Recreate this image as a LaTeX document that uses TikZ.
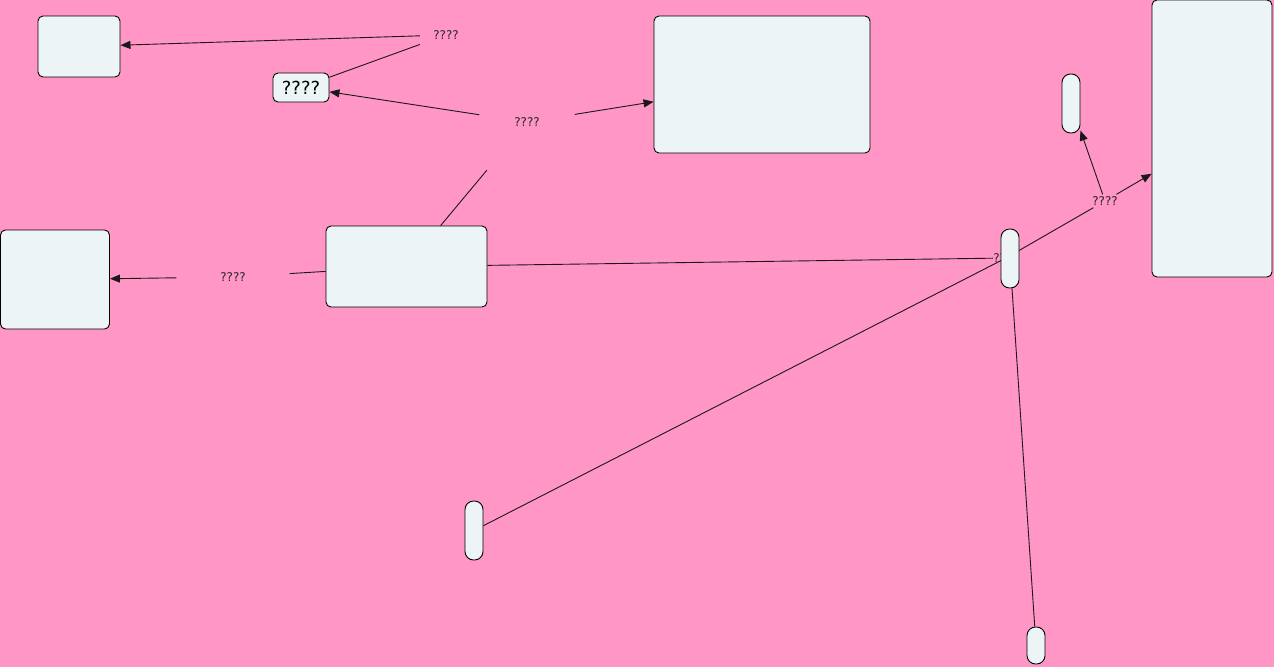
\documentclass[tikz,border=0pt]{standalone}
\usepackage{fontspec}
\setmainfont{DejaVu Sans}
\usetikzlibrary{arrows.meta}
\definecolor{bgpink}{HTML}{FF96C6}
\definecolor{boxfill}{HTML}{EDF4F6}
\pgfdeclarelayer{bglayer}
\pgfdeclarelayer{edgelayer}
\pgfsetlayers{bglayer,edgelayer,main}
\tikzset{
  box/.style={draw=black, fill=boxfill, line width=0.9pt, rounded corners=5pt, inner sep=0pt},
  pill/.style={draw=black, fill=boxfill, line width=0.9pt, rounded corners=8.5pt, inner sep=0pt, minimum width=18pt},
  lbl/.style={inner sep=0pt, font=\fontsize{12}{14}\selectfont, text=black!85},
  conn/.style={draw=black!90, line width=0.9pt},
  arr/.style={conn, -{Triangle[length=10pt,width=8pt]}}
}
\begin{document}
\begin{tikzpicture}[x=1pt,y=-1pt]
\begin{pgfonlayer}{bglayer}
\fill[bgpink] (0,0) rectangle (1274,667);
\end{pgfonlayer}
\useasboundingbox (0,0) rectangle (1274,667);
% labels
\node[lbl, minimum width=52pt, minimum height=24pt] (L1) at (446,35) {????};
\node[lbl, minimum width=95pt, minimum height=96pt] (L2) at (527,122) {????};
\node[lbl, minimum width=113pt, minimum height=30pt] (L3) at (233,277) {????};
\node[lbl, minimum width=26pt, minimum height=13pt] (L4) at (1105,201) {????};
\node[lbl, minimum width=26pt, minimum height=13pt] (L5) at (1006,258) {????};
% boxes
\node[box, minimum width=82pt, minimum height=61pt] (A) at (79,46.5) {};
\node[box, minimum width=56pt, minimum height=29pt, font=\fontsize{18}{20}\selectfont] (B) at (301,87.5) {????};
\node[box, minimum width=216pt, minimum height=137pt] (C) at (762,84.5) {};
\node[box, minimum width=120pt, minimum height=277pt] (D) at (1212,138.5) {};
\node[pill, minimum height=59pt] (E) at (1071,103.5) {};
\node[box, minimum width=109pt, minimum height=99pt] (F) at (55,279.5) {};
\node[box, minimum width=161pt, minimum height=81pt] (G) at (406.5,266.5) {};
\node[pill, minimum height=59pt] (H) at (1010,258.5) {};
\node[pill, minimum height=59pt] (I) at (474,530.5) {};
\node[pill, minimum height=37pt] (J) at (1036,645.5) {};
\begin{pgfonlayer}{edgelayer}
\draw[arr] (L1) -- (A);
\draw[conn] (L1) -- (B);
\draw[arr] (L2) -- (B);
\draw[arr] (L2) -- (C);
\draw[conn] (G) -- (L2);
\draw[conn] (G) -- (L3);
\draw[arr] (L3) -- (F);
\draw[conn] (G) -- (L5);
\draw[conn] (I) -- (L5.center);
\draw[conn] (L5.center) -- (L4);
\draw[arr] (L4) -- (D);
\draw[arr] (L4) -- (E);
\draw[conn] (J) -- (H);
\end{pgfonlayer}
\end{tikzpicture}
\end{document}
